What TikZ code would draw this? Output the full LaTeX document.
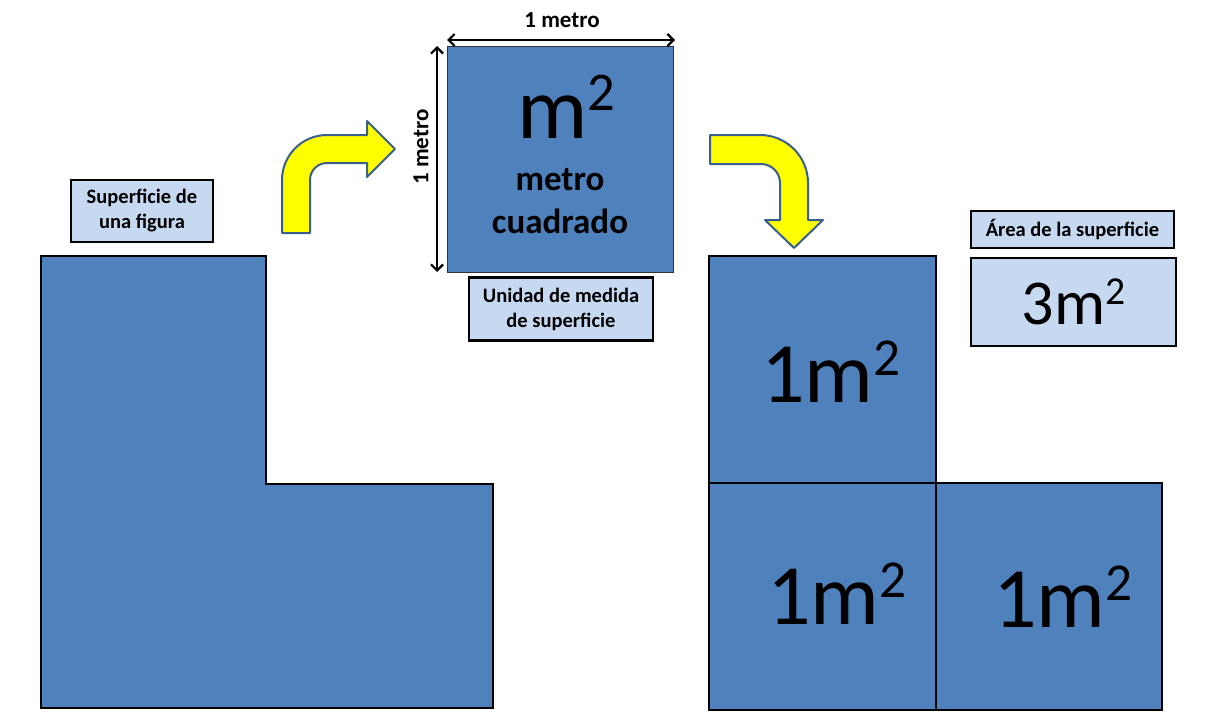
\documentclass[tikz,border=0pt]{standalone}
\usepackage{fontspec}
\setmainfont{Carlito}
\usetikzlibrary{arrows.meta}
\definecolor{fillblue}{HTML}{4F81BD}
\definecolor{lightbox}{HTML}{C6D9F1}
\definecolor{arrowedge}{HTML}{3A5F8C}
\definecolor{arrowyellow}{HTML}{FFFF00}
\newcommand{\sqsup}{\raisebox{0.31em}{\scalebox{0.62}{2}}}
\tikzset{
  bluesq/.style={draw=black, line width=1.2pt, fill=fillblue},
  labelbox/.style={draw=black, line width=2.2pt, fill=lightbox, align=center, font=\bfseries\fontsize{20.5}{25}\selectfont, inner sep=0pt},
  yarrow/.style={draw=arrowedge, line width=2pt, fill=arrowyellow, line join=round},
  dimarrow/.style={line width=2.2pt, {Straight Barb[length=6pt,width=12pt]}-{Straight Barb[length=6pt,width=12pt]}},
  bigtxt/.style={font=\fontsize{86}{90}\selectfont, anchor=base, inner sep=0pt},
  dimtxt/.style={font=\bfseries\fontsize{23}{26}\selectfont, inner sep=0pt}
}
\begin{document}
\begin{tikzpicture}[x=1pt,y=-1pt]
\useasboundingbox (0,0) rectangle (1207,720);
% L-shaped surface
\draw[bluesq] (41,256) -- (266,256) -- (266,484) -- (493,484) -- (493,708) -- (41,708) -- cycle;
% label
\node[labelbox, minimum width=142pt, minimum height=62pt] (sup) at (142,211) {Superficie de\\una figura};
% left yellow arrow
\draw[yarrow] (282,233) -- (282,180) .. controls (282,155.2) and (302.2,135) .. (327,135) -- (367,135) -- (367,121) -- (395,149) -- (367,177) -- (367,163) -- (327,163) .. controls (317.6,163) and (310,170.6) .. (310,180) -- (310,233) -- cycle;
% central unit square
\node[draw=black!80, line width=0.8pt, fill=fillblue, minimum width=226pt, minimum height=226pt, inner sep=0pt] (unit) at (560,159) {};
\node[font=\fontsize{88}{90}\selectfont, anchor=base, inner sep=0pt] (msq) at (566,138) {m\sqsup};
\node[font=\bfseries\fontsize{35}{43}\selectfont, align=center, anchor=base, inner sep=0pt] (mc) at (560,233) {metro\\cuadrado};
% dimension arrows
\coordinate (tl) at (447,40);
\coordinate (tr) at (675,40);
\draw[dimarrow] (tl) -- (tr);
\node[dimtxt] (topm) at (562,20) {1 metro};
\coordinate (lt) at (437,46);
\coordinate (lb) at (437,272);
\draw[dimarrow] (lt) -- (lb);
\node[dimtxt, rotate=90] (leftm) at (421,147) {1 metro};
% unit label
\node[labelbox, minimum width=184pt, minimum height=63pt] (unid) at (561,309) {Unidad de medida\\de superficie};
% right yellow arrow
\draw[yarrow] (710,135) -- (760,135) .. controls (786.5,135) and (808,156.5) .. (808,183) -- (808,220) -- (823,220) -- (794,248) -- (765,220) -- (780,220) -- (780,183) .. controls (780,172.5) and (771.5,164) .. (761,164) -- (710,164) -- cycle;
% right squares
\node[bluesq, minimum width=227pt, minimum height=227pt, inner sep=0pt] (s1) at (822.5,369.5) {};
\node[bluesq, minimum width=227pt, minimum height=227pt, inner sep=0pt] (s2) at (822.5,596.5) {};
\node[bluesq, minimum width=226pt, minimum height=227pt, inner sep=0pt] (s3) at (1049,596.5) {};
\node[bigtxt] (t1) at (831,402) {1m\sqsup};
\node[bigtxt] (t2) at (837,624) {1m\sqsup};
\node[bigtxt] (t3) at (1063,627) {1m\sqsup};
% area labels
\node[labelbox, minimum width=203pt, minimum height=37pt] (area) at (1072.5,229.5) {Área de la superficie};
\node[labelbox, minimum width=205pt, minimum height=88pt, font=\fontsize{64}{70}\selectfont] (res) at (1073.5,302) {3m\sqsup};
\end{tikzpicture}
\end{document}
